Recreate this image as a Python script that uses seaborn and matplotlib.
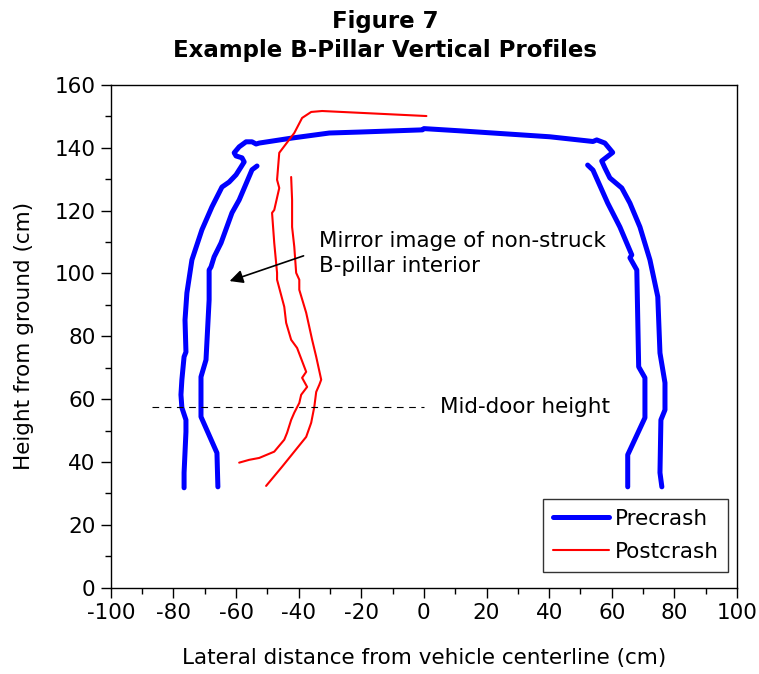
import matplotlib
matplotlib.use("Agg")
import matplotlib.pyplot as plt
import seaborn as sns
from matplotlib.ticker import MultipleLocator

# -----------------------------
# Data (cm)
# -----------------------------
# precrash outer profile: left side bottom -> roof -> right side bottom
pre_outer_x = [-76.6, -76.6, -76.0, -76.0, -77.3, -77.6, -77.3, -76.6, -76.0, -76.3,
               -75.7, -74.1, -70.9, -67.7, -64.5, -62.2, -60.0, -58.4, -57.4, -58.1,
               -60.0, -60.6, -59.0, -56.8, -54.9, -53.6, -52.6, -42.1, -30.2, -20.6,
               -0.5, 0.0, 11.4, 40.2, 54.0, 55.2, 57.8, 60.3, 56.8, 57.8,
               59.4, 63.2, 65.8, 69.0, 72.2, 74.7, 75.4, 77.0, 77.0, 75.7,
               75.4, 76.0]
pre_outer_y = [31.8, 36.6, 49.6, 53.4, 57.3, 61.4, 66.2, 73.5, 75.0, 85.2,
               93.8, 104.3, 113.9, 121.2, 127.5, 129.1, 131.4, 133.9, 135.5, 136.8,
               137.4, 138.4, 140.3, 141.9, 141.9, 141.2, 141.5, 143.1, 144.7, 145.0,
               145.7, 146.1, 145.4, 143.5, 142.0, 142.5, 141.5, 138.5, 135.8, 133.6,
               130.4, 127.2, 122.4, 114.8, 104.3, 92.6, 74.7, 65.2, 56.6, 53.4,
               36.6, 32.1]

pre_inner_left_x = [-53.3, -54.9, -59.0, -61.3, -64.8, -67.0, -68.0, -68.6, -68.6,
                    -69.6, -71.2, -71.2, -66.1, -65.8]
pre_inner_left_y = [134.2, 133.0, 123.4, 119.3, 109.7, 105.3, 102.1, 101.1, 91.6,
                    72.5, 67.1, 54.4, 42.9, 32.1]

pre_inner_right_x = [52.3, 54.0, 58.7, 62.6, 66.4, 65.8, 68.0, 68.6, 70.6, 70.6, 65.1, 65.1]
pre_inner_right_y = [134.5, 132.9, 122.4, 114.8, 105.9, 105.0, 101.1, 70.3, 66.8, 54.1, 42.3, 32.1]

# postcrash: struck side outer (goes over the roof) and mirrored interior
post_a_x = [-59.0, -55.8, -52.6, -47.8, -44.6, -43.7, -42.4, -41.4, -39.8, -39.2,
            -37.3, -38.9, -37.6, -40.5, -42.4, -44.0, -44.6, -46.9, -46.9, -47.8,
            -48.5, -47.8, -46.2, -46.9, -46.2, -41.4, -38.9, -36.0, -32.5, 0.8]
post_a_y = [39.8, 40.7, 41.3, 43.3, 47.1, 49.3, 53.4, 55.7, 58.8, 61.4,
            63.9, 66.8, 68.7, 76.3, 78.9, 84.3, 89.4, 98.0, 100.2, 109.7,
            119.3, 120.2, 127.2, 129.8, 138.4, 144.7, 149.5, 151.4, 151.7, 150.1]

post_b_x = [-50.4, -45.3, -37.6, -36.0, -35.0, -34.4, -33.4, -32.8, -34.4, -35.7,
            -37.6, -39.8, -39.8, -40.8, -41.4, -42.1, -42.1, -42.4]
post_b_y = [32.4, 38.5, 48.0, 52.5, 57.6, 62.3, 64.6, 66.2, 73.5, 78.9,
            87.5, 94.8, 98.0, 100.2, 108.5, 114.8, 123.4, 130.7]

mid_door_height = 57.6

# -----------------------------
# Plot
# -----------------------------
sns.set_style("white")
plt.rcParams['font.family'] = ['DejaVu Sans']
plt.rcParams['axes.unicode_minus'] = False
plt.rcParams.update({'text.color': 'black', 'axes.labelcolor': 'black',
                     'xtick.color': 'black', 'ytick.color': 'black'})

FS = 15.5

fig = plt.figure(figsize=(7.59, 6.74), dpi=100)
ax = fig.add_axes([0.146, 0.128, 0.825, 0.746])

blue = dict(color='#0000ff', linewidth=3.6, sort=False, estimator=None, ax=ax)
red = dict(color='#ff0000', linewidth=1.5, sort=False, estimator=None, ax=ax)

sns.lineplot(x=pre_outer_x, y=pre_outer_y, label='Precrash', **blue)
sns.lineplot(x=pre_inner_left_x, y=pre_inner_left_y, **blue)
sns.lineplot(x=pre_inner_right_x, y=pre_inner_right_y, **blue)
sns.lineplot(x=post_a_x, y=post_a_y, label='Postcrash', **red)
sns.lineplot(x=post_b_x, y=post_b_y, **red)

ax.plot([-87, 0], [mid_door_height, mid_door_height], color='black',
        linestyle=(0, (6, 5)), linewidth=0.8)
ax.text(5.0, mid_door_height, 'Mid-door height', fontsize=FS, va='center', ha='left')

ax.annotate('', xy=(-62.9, 97.3), xytext=(-37.6, 105.9),
            arrowprops=dict(arrowstyle='-|>', color='black', lw=1.2,
                            mutation_scale=20))
ax.text(-33.4, 106.3, 'Mirror image of non-struck\nB-pillar interior',
        fontsize=FS, va='center', ha='left', linespacing=1.35)

ax.set_xlim(-100, 100)
ax.set_ylim(0, 160)
ax.xaxis.set_major_locator(MultipleLocator(20))
ax.xaxis.set_minor_locator(MultipleLocator(10))
ax.yaxis.set_major_locator(MultipleLocator(20))
ax.yaxis.set_minor_locator(MultipleLocator(10))
ax.tick_params(which='major', direction='out', length=7, width=1, labelsize=FS,
               bottom=True, left=True, color='black', pad=4)
ax.tick_params(which='minor', direction='out', length=4, width=1,
               bottom=True, left=True, color='black')
for s in ax.spines.values():
    s.set_color('black')
    s.set_linewidth(1)

ax.set_xlabel('Lateral distance from vehicle centerline (cm)', fontsize=FS, labelpad=18)
ax.set_ylabel('Height from ground (cm)', fontsize=FS, labelpad=15)

fig.text(0.507, 0.985, 'Figure 7\nExample B-Pillar Vertical Profiles', ha='center',
         va='top', fontsize=16.5, fontweight='bold', linespacing=1.3)

leg = ax.legend(loc='lower right', bbox_to_anchor=(0.986, 0.032), fontsize=FS,
                frameon=True, fancybox=False, handlelength=2.6, borderpad=0.45,
                labelspacing=0.6, handletextpad=0.25, borderaxespad=0)
leg.get_frame().set_edgecolor('black')
leg.get_frame().set_linewidth(1)

fig.savefig('out.png', dpi=100)
